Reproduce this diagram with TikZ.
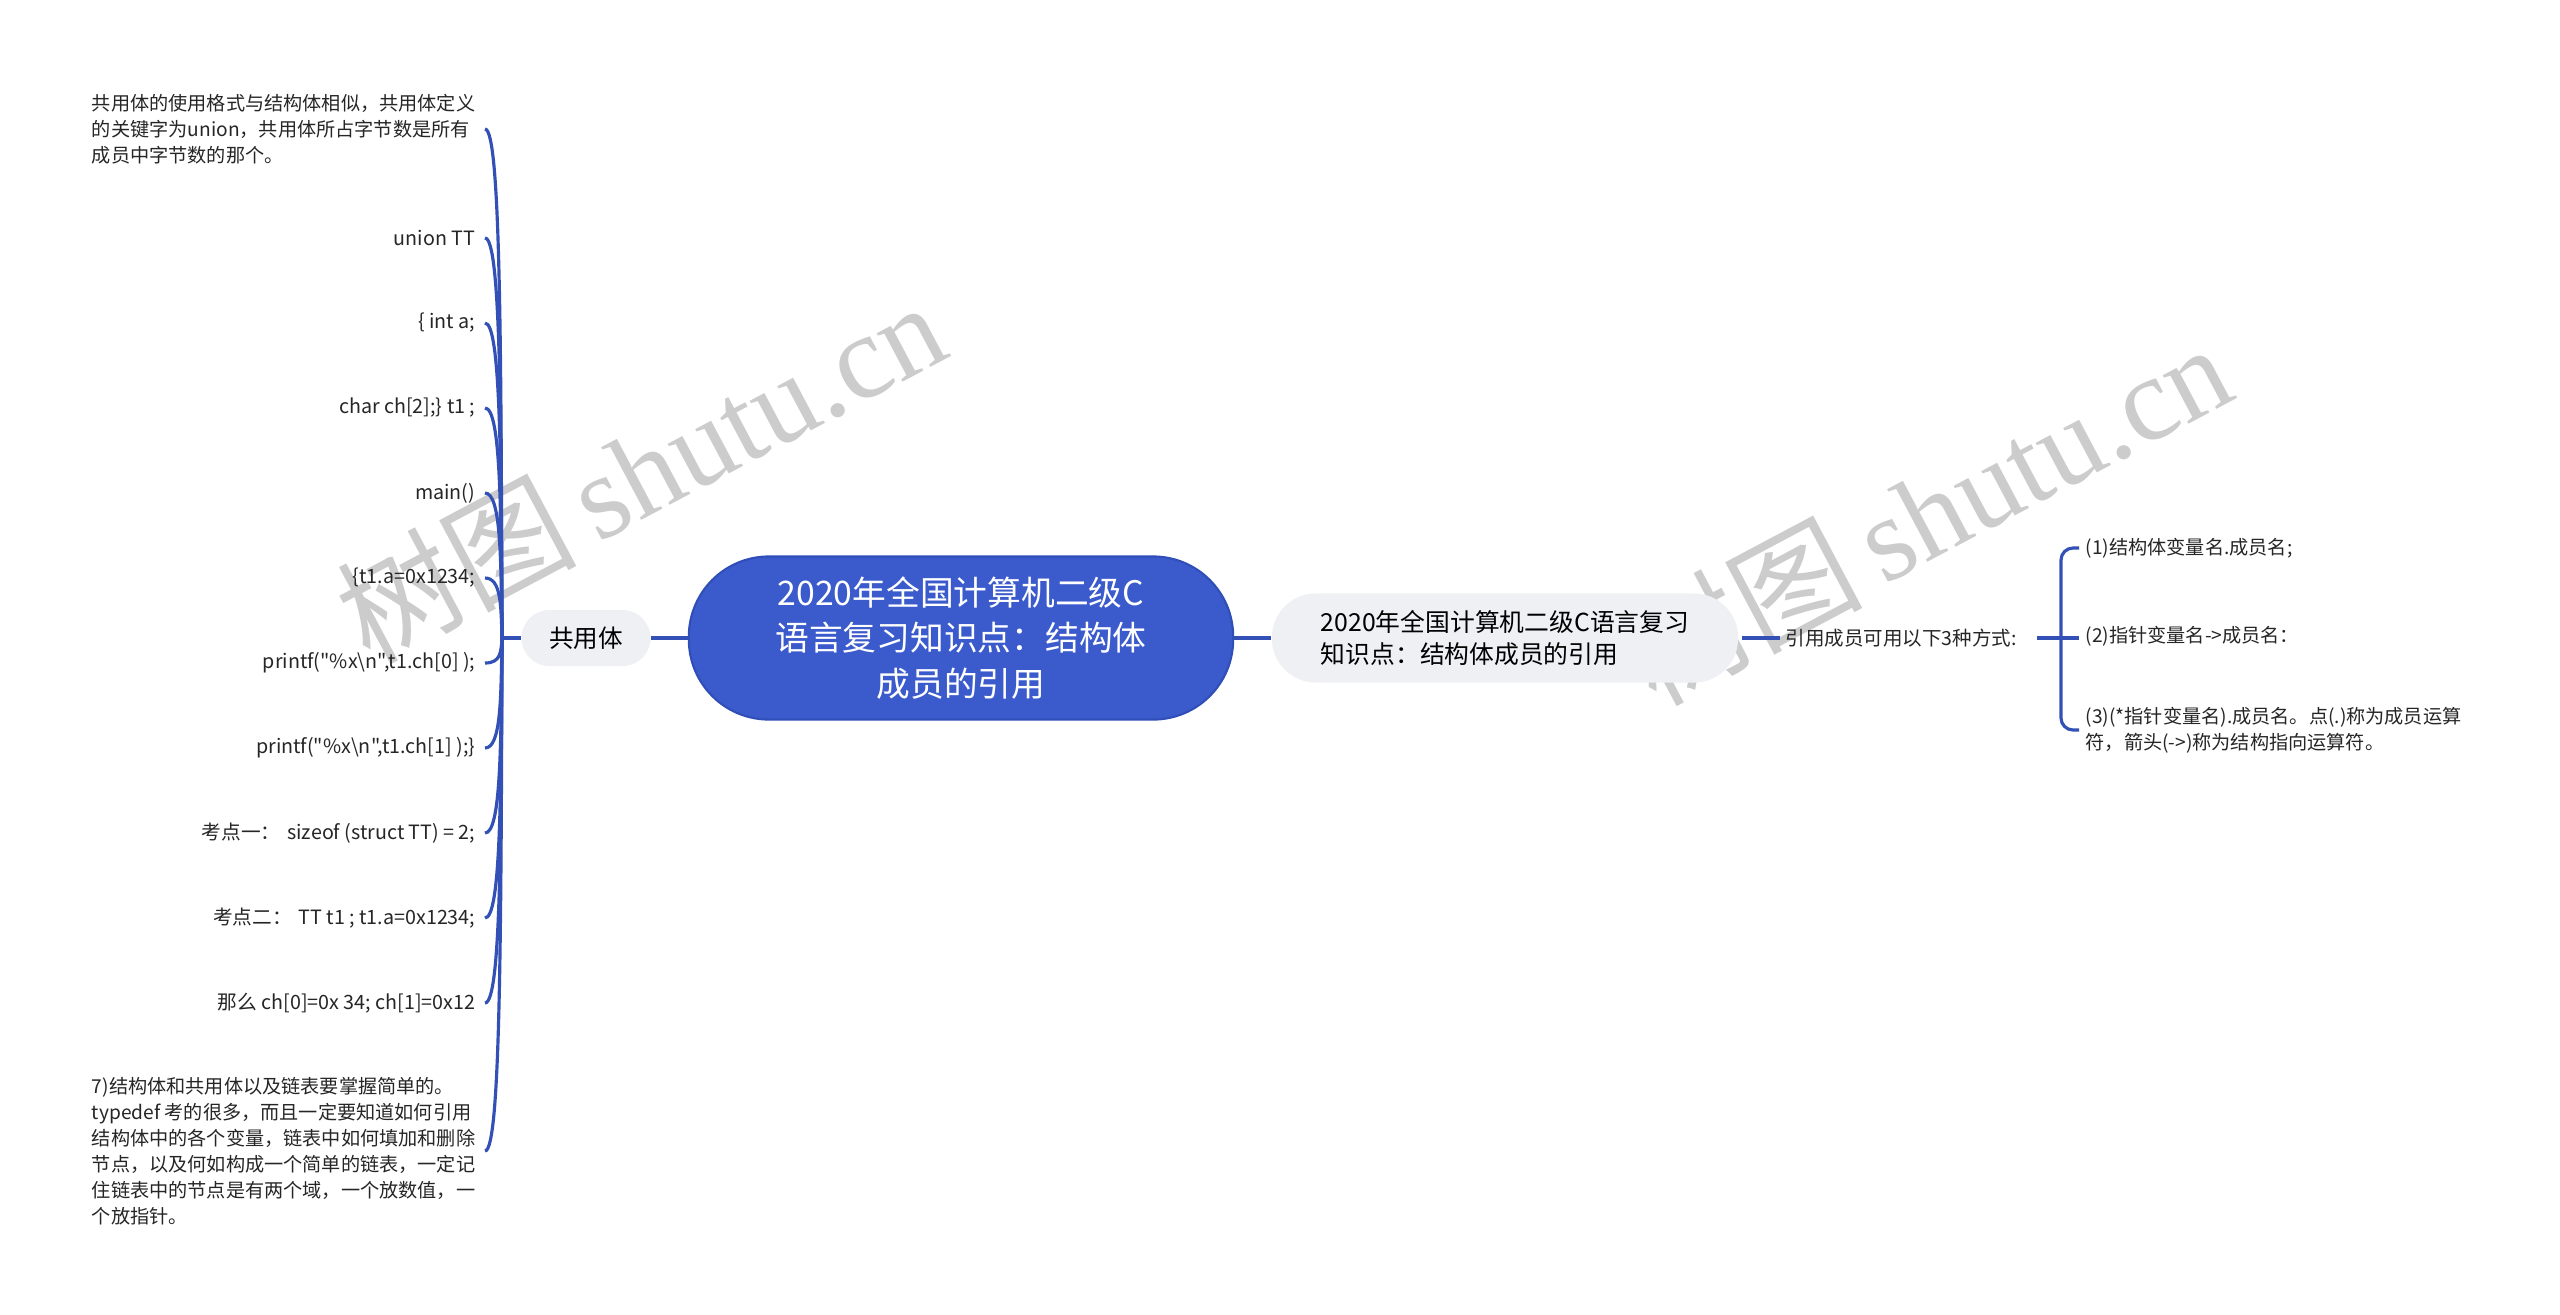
\documentclass[tikz,border=0pt]{standalone}
\usepackage{fontspec}
\setmainfont{Noto Sans CJK SC}[Ligatures=TeXOff]
\newfontfamily\wmlatin{Liberation Serif}
\definecolor{mainblue}{RGB}{59,91,204}
\definecolor{mainborder}{RGB}{48,78,184}
\definecolor{lineblue}{RGB}{50,80,182}
\definecolor{pillgray}{RGB}{238,240,244}
\definecolor{wmgray}{RGB}{204,204,204}
\begin{document}
\begin{tikzpicture}[x=0.01cm,y=-0.01cm,
  conn/.style={draw=lineblue,line width=0.9pt},
  leafnode/.style={font=\fontsize{5.45}{7.4}\selectfont,inner sep=0pt,align=left,text=black!85},
  rleaf/.style={leafnode,anchor=west},
  lleaf/.style={leafnode,anchor=east,align=right,font=\fontsize{5.6}{7.4}\selectfont},
  watermark/.style={rotate=28,text=wmgray,inner sep=0pt}]
\useasboundingbox[fill=white] (0,0) rectangle (2560,1314);

% watermarks
\node[watermark] (wm1) at (640,470) {\fontsize{34}{40}\selectfont 树图\,{\wmlatin shutu.cn}};
\node[watermark] (wm2) at (1926,512) {\fontsize{34}{40}\selectfont 树图\,{\wmlatin shutu.cn}};

% central node
\node[fill=mainblue,draw=mainborder,line width=0.6pt,rounded corners=0.8cm,
      minimum width=5.44cm,minimum height=1.63cm,align=center,text=white,
      font=\fontsize{9.6}{13}\selectfont] (c) at (961,638)
  {2020年全国计算机二级C\\语言复习知识点：结构体\\成员的引用};

% left subtopic
\node[fill=pillgray,rounded corners=0.28cm,minimum width=1.29cm,minimum height=0.56cm,
      font=\fontsize{7}{8}\selectfont,inner sep=0pt] (g) at (586,638) {共用体};

% right subtopic
\node[fill=pillgray,rounded corners=0.44cm,minimum width=4.66cm,minimum height=0.89cm,
      font=\fontsize{7.05}{9.2}\selectfont,align=left,inner sep=0pt] (p) at (1505,638)
  {2020年全国计算机二级C语言复习\\知识点：结构体成员的引用};

\node[leafnode,anchor=west,font=\fontsize{5.55}{7.4}\selectfont] (m) at (1785,638) {引用成员可用以下3种方式:};

% right leaves
\node[rleaf] (r1) at (2085,548) {(1)结构体变量名.成员名;};
\node[rleaf] (r2) at (2085,636) {(2)指针变量名->成员名：};
\node[rleaf] (r3) at (2085,730) {(3)(*指针变量名).成员名。点(.)称为成员运算\\符，箭头(->)称为结构指向运算符。};

% left leaves
\node[leafnode,anchor=east] (l1) at (476,129) {共用体的使用格式与结构体相似，共用体定义\\的关键字为union，共用体所占字节数是所有\\成员中字节数的那个。};
\node[lleaf] (l2) at (476,238) {union TT};
\node[lleaf] (l3) at (476,323) {\{ int a;};
\node[lleaf] (l4) at (476,408) {char ch[2];\} t1 ;};
\node[lleaf] (l5) at (476,493) {main()};
\node[lleaf] (l6) at (476,578) {\{t1.a=0x1234;};
\node[lleaf] (l7) at (476,663) {printf("\%x\textbackslash n",t1.ch[0] );};
\node[lleaf] (l8) at (476,748) {printf("\%x\textbackslash n",t1.ch[1] );\}};
\node[lleaf] (l9) at (476,833) {考点一：\hspace{0.35em}sizeof (struct TT) = 2;};
\node[lleaf] (l10) at (476,918) {考点二：\hspace{0.35em}TT t1 ; t1.a=0x1234;};
\node[lleaf] (l11) at (476,1003) {那么 ch[0]=0x 34; ch[1]=0x12};
\node[leafnode,anchor=east] (l12) at (476,1151) {7)结构体和共用体以及链表要掌握简单的。\\typedef 考的很多，而且一定要知道如何引用\\结构体中的各个变量，链表中如何填加和删除\\节点，以及何如构成一个简单的链表，一定记\\住链表中的节点是有两个域，一个放数值，一\\个放指针。};

% connectors: centre
\draw[conn] (c.west) -- (g.east);
\draw[conn] (c.east) -- (p.west);
\draw[conn] ([xshift=0.03cm]p.east) -- ([xshift=-0.05cm]m.west);

% left spine
\coordinate (J) at (502,638);
\draw[conn] (g.west) -- (J);
\foreach \n/\yy in {l1/129,l2/238,l3/323,l4/408,l5/493,l6/578,l7/663,l8/748,l9/833,l10/918,l11/1003,l12/1151}{
  \draw[conn] ([xshift=0.09cm]\n.east) .. controls (501,\yy) and (501,{\yy+0.45*(638-\yy)}) .. (J);
}

% right bracket
\coordinate (S) at (2061,638);
\draw[conn] ([xshift=0.2cm]m.east) -- (S);
\draw[conn,rounded corners=0.12cm] ([xshift=-0.06cm]r1.west) -| (S) |- ([xshift=-0.06cm]r3.west);
\draw[conn] (S) -- ([xshift=-0.06cm]r2.west |- S);
\end{tikzpicture}
\end{document}
